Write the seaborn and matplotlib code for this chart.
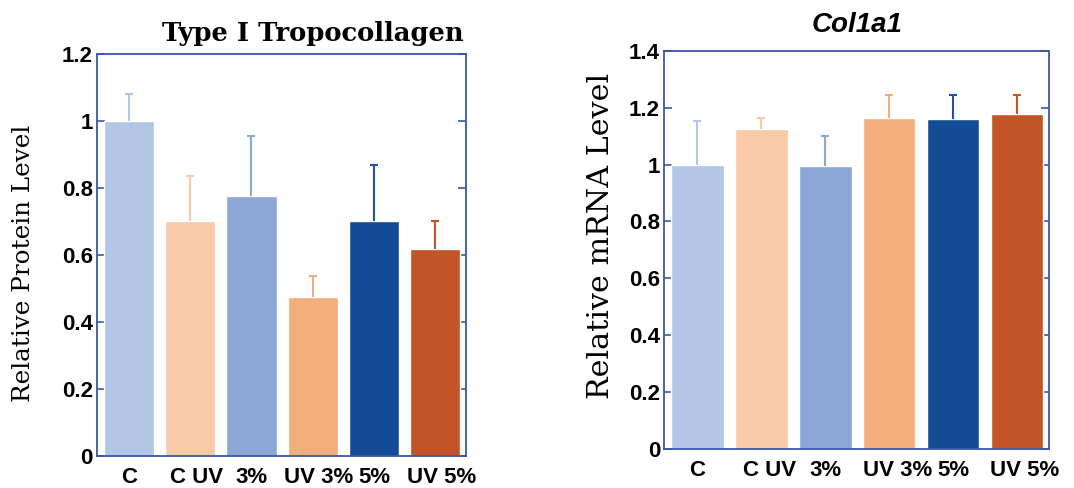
import matplotlib
matplotlib.use("Agg")
import matplotlib.pyplot as plt
import matplotlib.transforms as mtransforms
import seaborn as sns
import pandas as pd

categories = ["C", "C UV", "3%", "UV 3%", "5%", "UV 5%"]
protein_vals = [1.00, 0.70, 0.775, 0.475, 0.70, 0.618]
protein_err = [0.081, 0.136, 0.180, 0.063, 0.170, 0.084]
mrna_vals = [0.998, 1.125, 0.995, 1.163, 1.160, 1.178]
mrna_err = [0.156, 0.038, 0.105, 0.081, 0.084, 0.066]
bar_colors = ["#b3c6e5", "#f8caa8", "#8ca7d5", "#f3ae7e", "#134c94", "#c25428"]
err_colors = ["#b3c6e5", "#f8caa8", "#8ca7d5", "#f3ae7e", "#1d55a0", "#c25428"]
protein_ticks = [0, 0.2, 0.4, 0.6, 0.8, 1.0, 1.2]
protein_ticklabels = ["0", "0.2", "0.4", "0.6", "0.8", "1", "1.2"]
mrna_ticks = [0, 0.2, 0.4, 0.6, 0.8, 1.0, 1.2, 1.4]
mrna_ticklabels = ["0", "0.2", "0.4", "0.6", "0.8", "1", "1.2", "1.4"]

sns.set_theme(style="white")
plt.rcParams["font.family"] = ["Liberation Sans", "DejaVu Sans"]

spine_color = "#3a56a8"

fig = plt.figure(figsize=(10.74, 4.88), dpi=100)
ax1 = fig.add_axes([0.0903, 0.0656, 0.3436, 0.8238])
ax2 = fig.add_axes([0.6185, 0.0799, 0.3582, 0.8162])


def draw(ax, vals, errs, ticks, ticklabels, ylim, ylabel, ylabel_size,
         label_xy, shift_px):
    df = pd.DataFrame({"cat": categories, "val": vals})
    sns.barplot(data=df, x="cat", y="val", hue="cat", palette=bar_colors,
                order=categories, hue_order=categories, legend=False,
                width=0.82, saturation=1, ax=ax, errorbar=None)
    for p, v, e, c in zip(ax.patches, vals, errs, err_colors):
        xc = p.get_x() + p.get_width() / 2
        ax.vlines(xc, v, v + e, colors=c, linewidth=1.5, zorder=3)
        ax.plot([xc], [v + e], marker="_", markersize=6, markeredgewidth=1.5,
                color=c, zorder=3)
    ax.set_xlim(-0.52, 5.5)
    ax.set_ylim(*ylim)
    ax.set_yticks(ticks)
    ax.set_yticklabels(ticklabels, fontsize=16, fontweight="bold", color="black")
    ax.set_xticks(range(len(categories)))
    ax.set_xticklabels(categories, fontsize=16, fontweight="bold", color="black")
    ax.tick_params(axis="y", which="both", direction="in", length=6, width=1.2,
                   color=spine_color, left=True, right=True, pad=3)
    ax.tick_params(axis="x", length=0, pad=8)
    for lab in ax.get_xticklabels():
        if " " in lab.get_text():
            lab.set_transform(lab.get_transform() + mtransforms.ScaledTranslation(
                shift_px / 100, 0, fig.dpi_scale_trans))
    for s in ax.spines.values():
        s.set_visible(True)
        s.set_color(spine_color)
        s.set_linewidth(1.3)
        s.set_zorder(4)
    ax.set_xlabel("")
    ax.set_ylabel(ylabel, fontsize=ylabel_size, family="DejaVu Serif",
                  color="black")
    ax.yaxis.set_label_coords(*label_xy)


draw(ax1, protein_vals, protein_err, protein_ticks, protein_ticklabels,
     (0, 1.2), "Relative Protein Level", 17.7, (-0.167, 0.478), 6)
draw(ax2, mrna_vals, mrna_err, mrna_ticks, mrna_ticklabels,
     (0, 1.4), "Relative mRNA Level", 21.7, (-0.128, 0.536), 8)

ax1.text(0.585, 1.052, "Type I Tropocollagen", transform=ax1.transAxes,
         ha="center", va="center", fontsize=18.6, fontweight="bold",
         family="DejaVu Serif", color="black")
ax2.text(0.5, 1.064, "Col1a1", transform=ax2.transAxes, ha="center",
         va="center", fontsize=20, fontstyle="italic", fontweight="bold",
         color="black")

fig.savefig("out.png", dpi=100)
